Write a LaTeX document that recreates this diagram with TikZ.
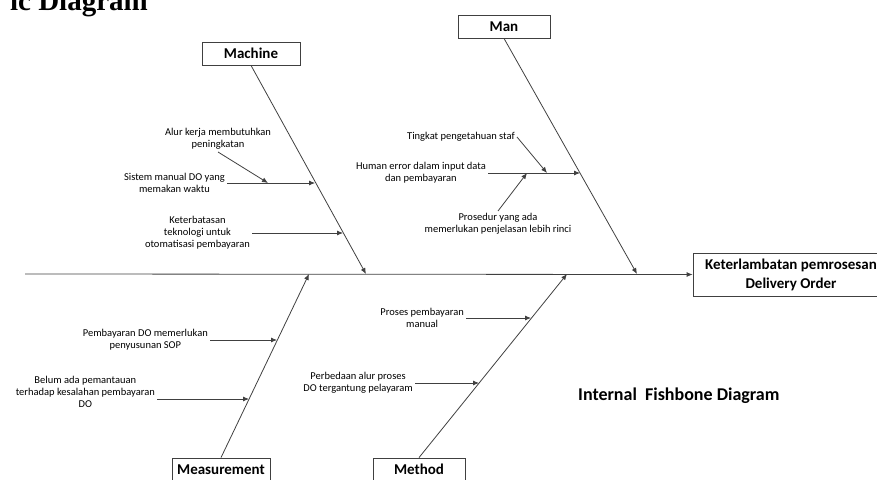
\documentclass[tikz,border=0pt]{standalone}
\usepackage{fontspec}
\setmainfont{Carlito}
\newfontfamily\judulfont{Liberation Serif}
\usetikzlibrary{arrows.meta}

\begin{document}
\begin{tikzpicture}[x=1pt,y=-1pt]
\tikzset{
  catbox/.style={draw=black!75, line width=0.8pt, minimum height=23pt, inner sep=2pt,
    font=\fontsize{15}{19}\selectfont\bfseries},
  causetxt/.style={align=center, inner sep=2pt, text=black,
    font=\fontsize{10.5}{12}\selectfont},
  bone/.style={draw=black!75, line width=0.8pt, -{Latex[length=6pt,width=5pt]}}
}
\useasboundingbox (0,0) rectangle (877,479);
\clip (0,0) rectangle (877,479);
\node[anchor=base east, inner sep=0, font=\judulfont\fontsize{29}{32}\selectfont\bfseries] (judul) at (148,10) {ic Diagram};
% kategori dan akibat
\node[catbox, minimum width=98pt] (machine) at (251,53.5) {Machine};
\node[catbox, minimum width=92pt] (man) at (504,26.5) {Man};
\node[catbox, minimum width=98pt] (measure) at (221,469.5) {Measurement};
\node[catbox, minimum width=92pt] (method) at (419,469.5) {Method};
\node[catbox, minimum width=196pt, minimum height=43pt, align=center] (effect) at (791,274.5) {Keterlambatan pemrosesan\\Delivery Order};
% tulang utama
\coordinate (tail) at (25,274);
\coordinate (machT) at (366,274);
\coordinate (manT) at (637,274);
\coordinate (measT) at (309,274);
\coordinate (methT) at (567,274);
\draw[bone] (tail) -- (effect.west);
\draw[bone] (machine.south) -- (machT);
\draw[bone] (man.south) -- (manT);
\draw[bone] (measure.north) -- (measT);
\draw[bone] (method.north) -- (methT);
% titik pada tulang
\coordinate (mc1) at (315,183);
\coordinate (mc1b) at (268,183);
\coordinate (mc2) at (343,233);
\coordinate (mn1) at (580,173);
\coordinate (mn1a) at (547,173);
\coordinate (mn1b) at (527,173);
\coordinate (ms1) at (277,340);
\coordinate (ms2) at (249,399);
\coordinate (mt1) at (531,318);
\coordinate (mt2) at (479,383);
% penyebab
\node[causetxt, anchor=south] (alur) at (218,152) {Alur kerja membutuhkan\\peningkatan};
\node[causetxt, anchor=east] (sistem) at (227,183) {Sistem manual DO yang\\memakan waktu};
\node[causetxt, anchor=east] (batas) at (252,233) {Keterbatasan\\teknologi untuk\\otomatisasi pembayaran};
\node[causetxt, anchor=east] (tingkat) at (517,137) {Tingkat pengetahuan staf};
\node[causetxt, anchor=east] (human) at (488,173) {Human error dalam input data\\dan pembayaran};
\node[causetxt, anchor=north] (prosedur) at (498,211) {Prosedur yang ada\\memerlukan penjelasan lebih rinci};
\node[causetxt, anchor=east] (sop) at (210,340) {Pembayaran DO memerlukan\\penyusunan SOP};
\node[causetxt, anchor=east] (pantau) at (157,392) {Belum ada pemantauan\\terhadap kesalahan pembayaran\\DO};
\node[causetxt, anchor=east] (proses) at (466,318) {Proses pembayaran\\manual};
\node[causetxt, anchor=east] (beda) at (415,383) {Perbedaan alur proses\\DO tergantung pelayaram};
\draw[bone] (sistem.east) -- (mc1);
\draw[bone] (alur.south) -- (mc1b);
\draw[bone] (batas.east) -- (mc2);
\draw[bone] (human.east) -- (mn1);
\draw[bone] (tingkat.east) -- (mn1a);
\draw[bone] (prosedur.north) -- (mn1b);
\draw[bone] (sop.east) -- (ms1);
\draw[bone] (pantau.east |- ms2) -- (ms2);
\draw[bone] (proses.east) -- (mt1);
\draw[bone] (beda.east) -- (mt2);
\node[anchor=base west, inner sep=0, font=\fontsize{18}{21}\selectfont\bfseries] (catatan) at (578,400) {Internal\ \ Fishbone Diagram};
\end{tikzpicture}
\end{document}
